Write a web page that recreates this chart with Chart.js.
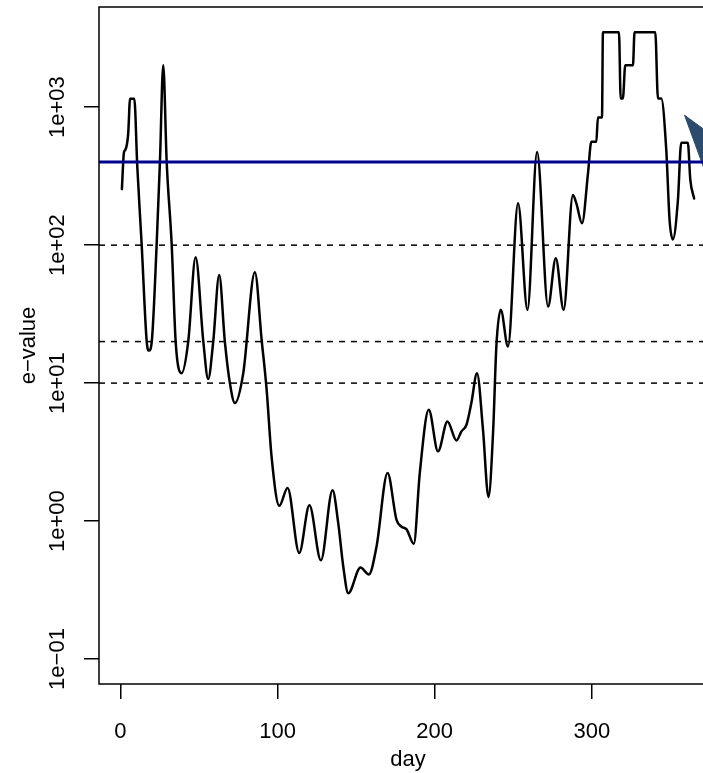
<!DOCTYPE html>
<html>
<head>
<meta charset="utf-8">
<script src="https://cdn.jsdelivr.net/npm/chart.js@4.4.1/dist/chart.umd.min.js"></script>
<style>
html, body { margin: 0; padding: 0; overflow: hidden; background: #fff; }
</style>
</head>
<body>
<canvas id="evalueChart" width="720" height="773"></canvas>
<script>
// e-value per day
var days = [1, 2.3, 3.2, 5, 6.2, 8.9, 10.8, 13.6, 16.8, 18.2, 20, 23.1, 25.2, 27.3, 29.5, 32.7, 35.2, 39,
    43.2, 47.9, 52.8, 55.9, 59.1, 62.9, 66.5, 69.7, 72.9, 78.2, 85.6, 89.9, 93.1, 96.2, 101.1, 106.4,
    113.8, 120.3, 127.6, 135, 138.6, 141.8, 145, 152.8, 158.1, 163, 170, 175.7, 178.9, 182, 186.7,
    190.5, 196.2, 202.1, 208.1, 213.8, 217, 220.2, 223.3, 226.9, 230.7, 234.2, 237.2, 239.2, 242,
    246.6, 253, 259, 265.1, 272.1, 277, 282, 287.9, 290.1, 293.7, 297.5, 299.6, 302.8, 303.8, 306.4,
    307, 317.2, 318.3, 319.7, 321.2, 326.1, 327.1, 340.3, 342, 344.1, 347.3, 349.4, 351.5, 354.7,
    356.8, 361, 362.6, 365];
var evalues = [255, 470, 490, 640, 1150, 1150, 370, 100, 20, 17.2, 20, 100, 400, 2014, 400, 100, 20, 11.8,
    20, 81.7, 20, 10.7, 20, 60.8, 20, 10, 7.17, 11.8, 63.7, 20.6, 8.9, 2.94, 1.29, 1.74,
    0.587, 1.3, 0.519, 1.67, 0.97, 0.47, 0.3, 0.46, 0.41, 0.655, 2.23, 1.02, 0.91, 0.875, 0.685,
    2.23, 6.4, 3.2, 5.27, 3.84, 4.47, 4.99, 7.17, 11.8, 4.6, 1.49, 4.6, 18.4, 34,
    18.4, 201, 34, 474, 35.9, 80.4, 34, 231, 201, 144, 331, 561, 561, 842, 842,
    3493, 3493, 1157, 1157, 2014, 2014, 3493, 3493, 1157, 1157, 489, 152, 110, 212,
    552, 552, 296, 218];

var xTicks = [0, 100, 200, 300];
var yTicks = [0.1, 1, 10, 100, 1000];
var yTickLabels = ['1e\u221201', '1e+00', '1e+01', '1e+02', '1e+03'];
var dashedLevels = [100, 20, 10];
var blueLevel = 400;
var xRange = [-13.56, 379.56];
var yRange = [0.0659, 5325];
// arrow head in the top right corner
var arrowDays = [358.9, 379.56, 379.56, 358.9];
var arrowValues = [875, 589, 199, 875];

function hLine(level){
    return xRange.map(function(x){ return {x: x, y: level}; });
}

var rStyle = {
    id: 'rStyle',
    afterDraw: function(chart){
        var ctx = chart.ctx;
        var area = chart.chartArea;
        var xs = chart.scales.x;
        var ys = chart.scales.y;
        ctx.save();
        ctx.strokeStyle = '#000';
        ctx.lineWidth = 1.5;
        ctx.strokeRect(area.left, area.top, area.right - area.left, area.bottom - area.top);

        ctx.fillStyle = '#000';
        ctx.font = '22px "Liberation Sans", Arial, Helvetica, sans-serif';
        ctx.textAlign = 'center';
        ctx.textBaseline = 'alphabetic';
        xTicks.forEach(function(v){
            ctx.fillText(String(v), xs.getPixelForValue(v), area.bottom + 54);
        });
        ctx.fillText('day', (area.left + area.right) / 2, area.bottom + 82);

        yTicks.forEach(function(v, i){
            ctx.save();
            ctx.translate(area.left - 35, ys.getPixelForValue(v));
            ctx.rotate(-Math.PI / 2);
            ctx.fillText(yTickLabels[i], 0, 0);
            ctx.restore();
        });

        ctx.save();
        ctx.translate(area.left - 64, (area.top + area.bottom) / 2);
        ctx.rotate(-Math.PI / 2);
        ctx.fillText('e\u2212value', 0, 0);
        ctx.restore();
        ctx.restore();
    }
};

var datasets = [{
    label: 'threshold',
    data: hLine(blueLevel),
    borderColor: '#00008B',
    borderWidth: 3,
    pointRadius: 0
}];
dashedLevels.forEach(function(lv){
    datasets.push({
        label: 'level ' + lv,
        data: hLine(lv),
        borderColor: '#000',
        borderWidth: 1.5,
        borderDash: [6, 6],
        pointRadius: 0
    });
});
datasets.push({
    label: 'e-value',
    data: days.map(function(d, i){ return {x: d, y: evalues[i]}; }),
    borderColor: '#000',
    borderWidth: 2.5,
    borderCapStyle: 'round',
    borderJoinStyle: 'round',
    cubicInterpolationMode: 'monotone',
    pointRadius: 0
});
datasets.push({
    label: 'arrow',
    data: arrowDays.map(function(d, i){ return {x: d, y: arrowValues[i]}; }),
    borderColor: '#2d4b6c',
    backgroundColor: '#2d4b6c',
    borderWidth: 1,
    fill: 'shape',
    pointRadius: 0
});

var ctx = document.getElementById('evalueChart').getContext('2d');
var myChart = new Chart(ctx, {
    type: 'line',
    data: { datasets: datasets },
    options: {
        responsive: false,
        animation: false,
        layout: { padding: { top: 7, right: 3, left: 0, bottom: 0 } },
        scales: {
            x: {
                type: 'linear',
                min: xRange[0],
                max: xRange[1],
                afterBuildTicks: function(scale){
                    scale.ticks = xTicks.map(function(v){ return {value: v}; });
                },
                afterFit: function(scale){ scale.height = 89; },
                ticks: { display: false },
                grid: { drawOnChartArea: false, drawTicks: true, tickLength: 15, color: '#000', lineWidth: 1.5 },
                border: { display: false }
            },
            y: {
                type: 'logarithmic',
                min: yRange[0],
                max: yRange[1],
                afterBuildTicks: function(scale){
                    scale.ticks = yTicks.map(function(v){ return {value: v}; });
                },
                afterFit: function(scale){ scale.width = 99; },
                ticks: { display: false },
                grid: { drawOnChartArea: false, drawTicks: true, tickLength: 15, color: '#000', lineWidth: 1.5 },
                border: { display: false }
            }
        },
        plugins: {
            legend: { display: false },
            tooltip: { enabled: false }
        }
    },
    plugins: [rStyle]
});
</script>
</body>
</html>
